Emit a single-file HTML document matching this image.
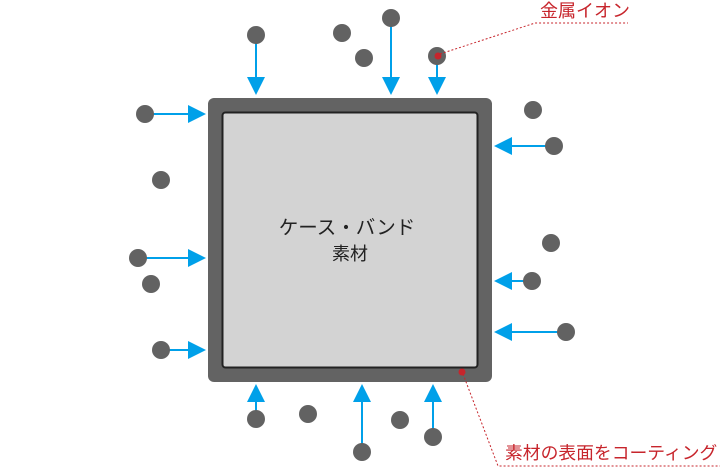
<!DOCTYPE html>
<html><head><meta charset="utf-8"><style>body{margin:0;background:#fff}svg{display:block}</style></head><body>
<svg width="720" height="467" viewBox="0 0 720 467" xmlns="http://www.w3.org/2000/svg" font-family="'Liberation Sans','Noto Sans CJK JP',sans-serif">
<rect x="208" y="98" width="284" height="284" rx="6" fill="#636363"/>
<rect x="222.5" y="112.5" width="255" height="255" rx="3" fill="#d3d3d3" stroke="#222" stroke-width="2"/>
<text x="347" y="234" font-size="19.5" fill="#222" text-anchor="middle">ケース・バンド</text>
<text x="350" y="260" font-size="18" fill="#222" text-anchor="middle">素材</text>
<g stroke="#00a0e9" stroke-width="2">
<line x1="256" y1="35" x2="256" y2="80"/><line x1="391" y1="18" x2="391" y2="80"/><line x1="437" y1="56" x2="437" y2="80"/>
<line x1="145" y1="114" x2="190" y2="114"/><line x1="138" y1="258" x2="190" y2="258"/><line x1="161" y1="350" x2="190" y2="350"/>
<line x1="554" y1="146" x2="510" y2="146"/><line x1="532" y1="281" x2="510" y2="281"/><line x1="566" y1="332" x2="510" y2="332"/>
<line x1="256" y1="419" x2="256" y2="400"/><line x1="362" y1="452" x2="362" y2="400"/><line x1="433" y1="437" x2="433" y2="400"/>
</g>
<g fill="#00a0e9">
<polygon points="247,77 265,77 256,95"/><polygon points="382,77 400,77 391,95"/><polygon points="428,77 446,77 437,95"/>
<polygon points="188,105 188,123 206,114"/><polygon points="188,249 188,267 206,258"/><polygon points="188,341 188,359 206,350"/>
<polygon points="512,137 512,155 494,146"/><polygon points="512,272 512,290 494,281"/><polygon points="512,323 512,341 494,332"/>
<polygon points="247,402 265,402 256,384"/><polygon points="353,402 371,402 362,384"/><polygon points="424,402 442,402 433,384"/>
</g>
<g fill="#626262">
<circle cx="256" cy="35" r="9"/><circle cx="391" cy="18" r="9"/><circle cx="437" cy="56" r="9"/><circle cx="342" cy="33" r="9"/><circle cx="364" cy="58" r="9"/>
<circle cx="145" cy="114" r="9"/><circle cx="138" cy="258" r="9"/><circle cx="161" cy="350" r="9"/><circle cx="161" cy="180" r="9"/><circle cx="151" cy="284" r="9"/>
<circle cx="554" cy="146" r="9"/><circle cx="532" cy="281" r="9"/><circle cx="566" cy="332" r="9"/><circle cx="533" cy="110" r="9"/><circle cx="551" cy="243" r="9"/>
<circle cx="256" cy="419" r="9"/><circle cx="362" cy="452" r="9"/><circle cx="433" cy="437" r="9"/><circle cx="308" cy="414" r="9"/><circle cx="400" cy="420" r="9"/>
</g>
<circle cx="438" cy="56" r="3.5" fill="#c7252c"/>
<circle cx="462" cy="372" r="3.5" fill="#c7252c"/>
<g stroke="#c7252c" stroke-width="1" stroke-dasharray="2,2" fill="none">
<polyline points="440,54 535,23 628,23"/>
<polyline points="463,374 498,466 720,466"/>
</g>
<text x="540" y="17" font-size="18" fill="#c7252c">金属イオン</text>
<text x="505" y="459" font-size="17.8" fill="#c7252c">素材の表面をコーティング</text>
</svg>
</body></html>
